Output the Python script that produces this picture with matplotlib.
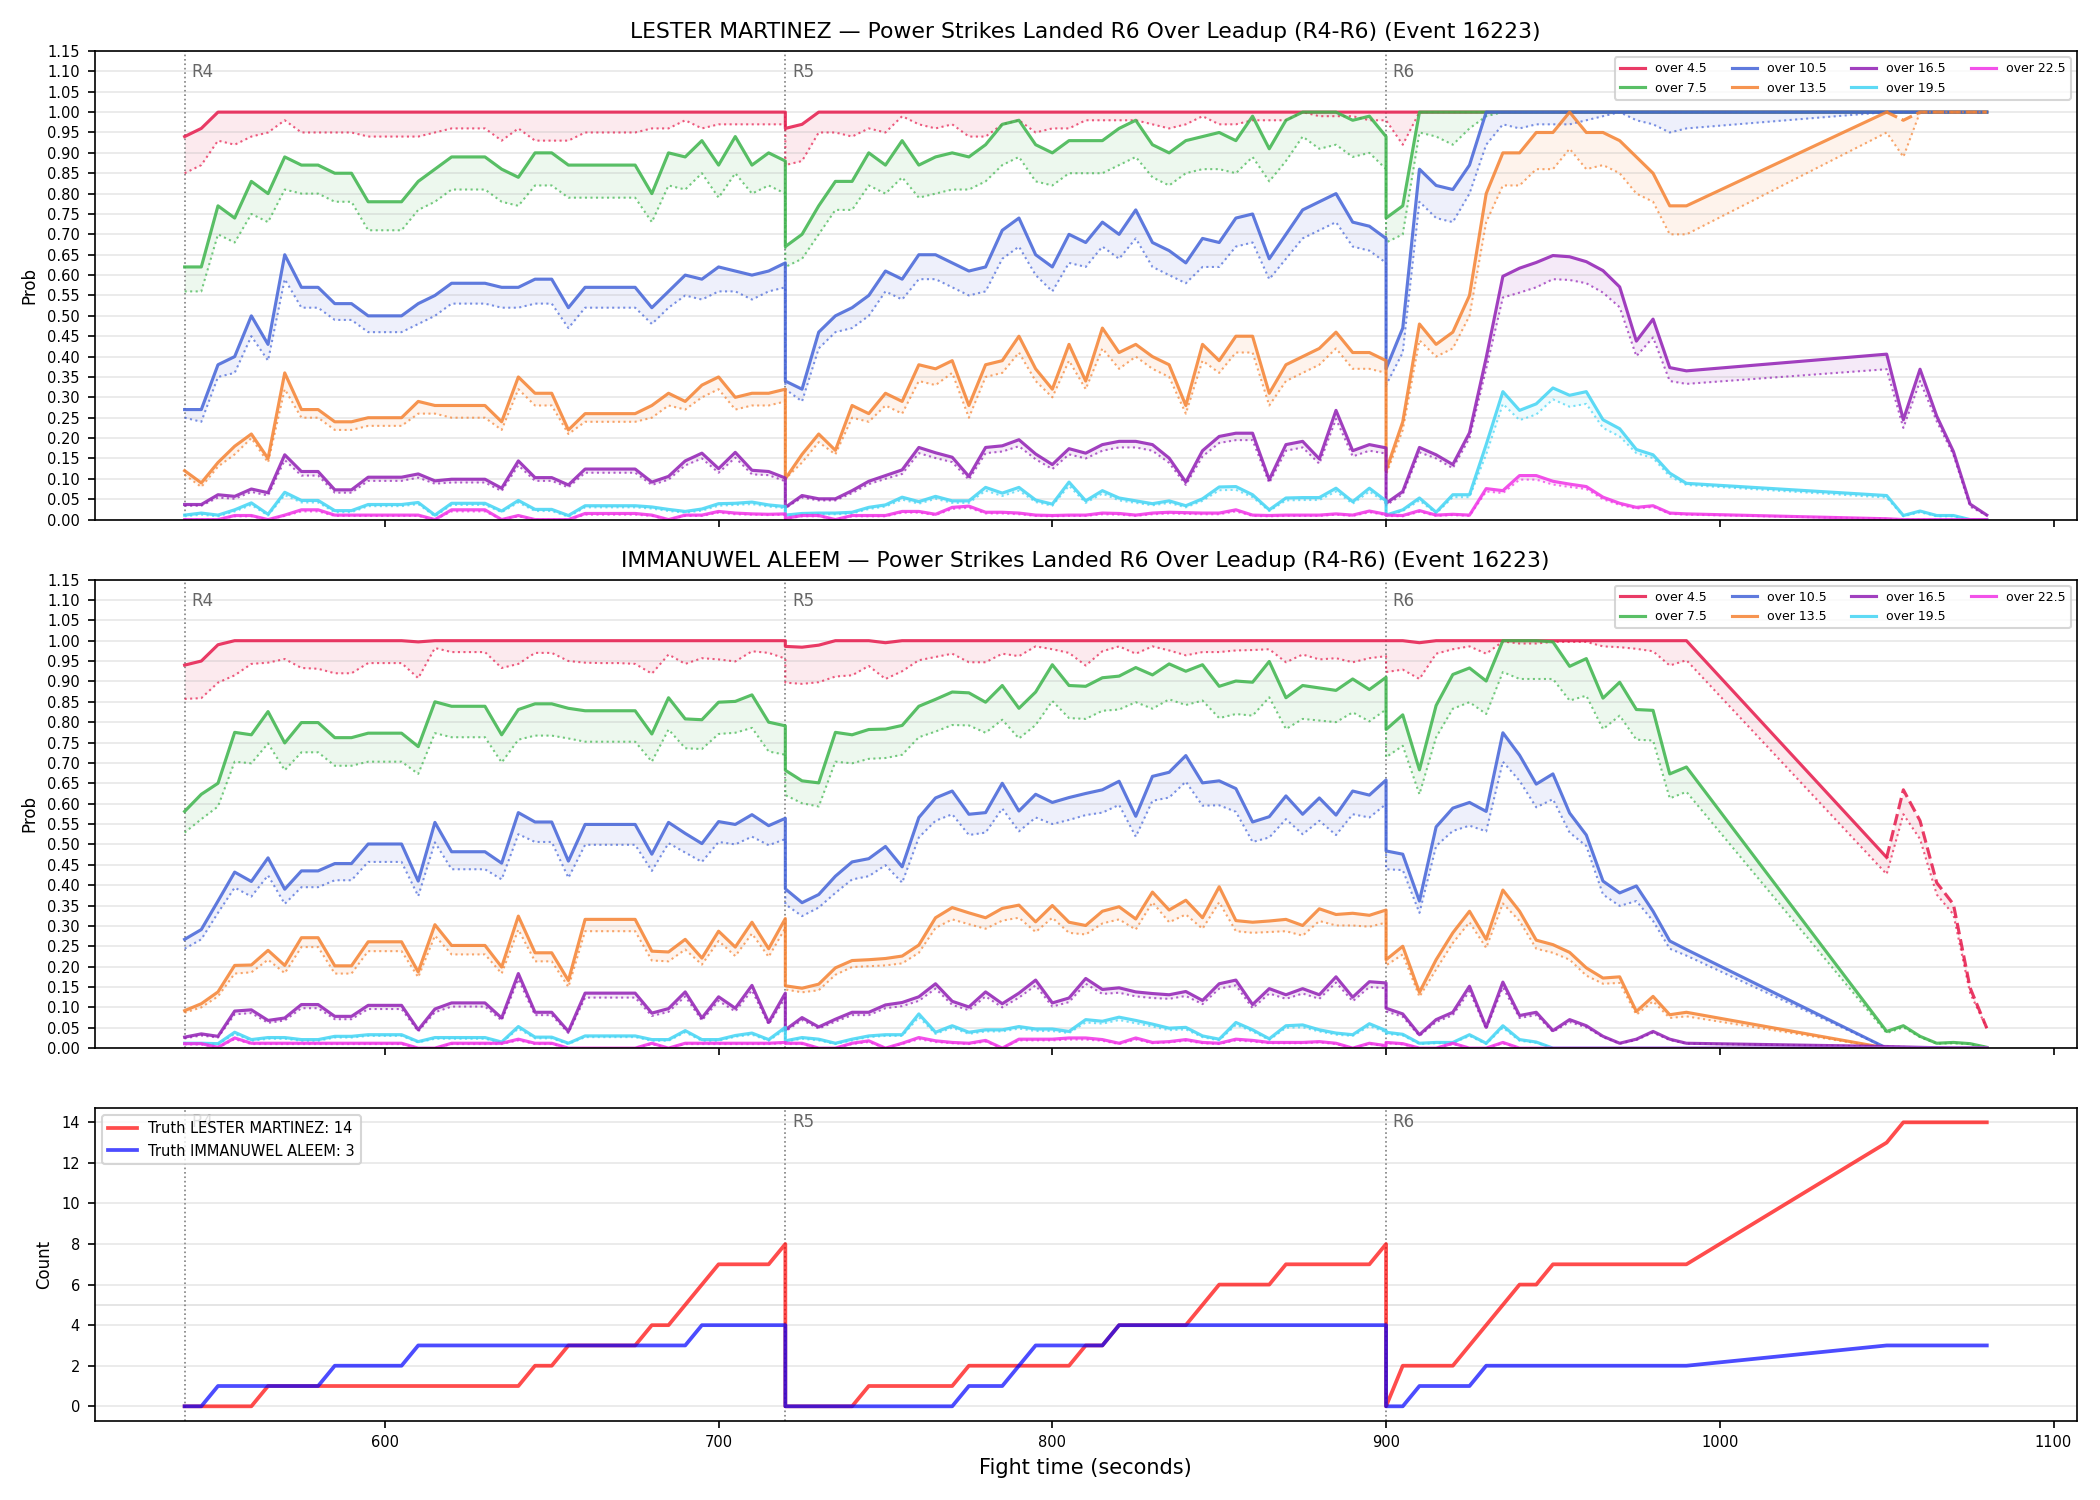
import matplotlib.pyplot as plt
import numpy as np
from matplotlib.transforms import blended_transform_factory


# sample times (s); R6 feed has a gap between 990 and 1050
t_r4 = list(range(540, 721, 5))
t_r5 = list(range(720, 901, 5))
t_r6 = list(range(900, 991, 5)) + list(range(1050, 1081, 5))
times = t_r4 + t_r5 + t_r6

round_starts = [540, 720, 900]
round_names = ['R4', 'R5', 'R6']

line_labels = ['over 4.5', 'over 7.5', 'over 10.5', 'over 13.5',
               'over 16.5', 'over 19.5', 'over 22.5']
line_colors = ['#e6194b', '#3cb44b', '#4363d8', '#f58231',
               '#911eb4', '#42d4f4', '#f032e6']

# ---- LESTER MARTINEZ, probabilities in percent (solid = mean, _lo = lower) ----
lm_45 = [94, 96, 100, 100, 100, 100, 100, 100, 100, 100, 100, 100, 100, 100, 100, 100, 100, 100, 100, 100,
         100, 100, 100, 100, 100, 100, 100, 100, 100, 100, 100, 100, 100, 100, 100, 100, 100,
         96, 97, 100, 100, 100, 100, 100, 100, 100, 100, 100, 100, 100, 100, 100, 100, 100, 100, 100,
         100, 100, 100, 100, 100, 100, 100, 100, 100, 100, 100, 100, 100, 100, 100, 100, 100, 100,
         100, 100, 100, 100, 100, 100, 100, 100, 100, 100, 100, 100, 100, 100, 100, 100, 100, 100, 100,
         100, 100, 100, 100, 100, 100, 100]
lm_45_lo = [85, 87, 93, 92, 94, 95, 98, 95, 95, 95, 95, 94, 94, 94, 94, 95, 96, 96, 96, 93,
            96, 93, 93, 93, 95, 95, 95, 95, 96, 96, 98, 96, 97, 97, 97, 97, 97,
            87, 88, 95, 95, 94, 96, 95, 99, 97, 96, 97, 94, 94, 97, 98, 95, 96, 96, 98,
            98, 98, 98, 97, 96, 97, 99, 97, 97, 98, 98, 98, 100, 99, 99, 99, 98, 98,
            98, 92, 100, 100, 100, 100, 100, 100, 100, 100, 100, 100, 100, 100, 100, 100, 100, 100, 100,
            100, 100, 100, 100, 100, 100, 100]
lm_75 = [62, 62, 77, 74, 83, 80, 89, 87, 87, 85, 85, 78, 78, 78, 83, 86, 89, 89, 89, 86,
         84, 90, 90, 87, 87, 87, 87, 87, 80, 90, 89, 93, 87, 94, 87, 90, 88,
         67, 70, 77, 83, 83, 90, 87, 93, 87, 89, 90, 89, 92, 97, 98, 92, 90, 93, 93,
         93, 96, 98, 92, 90, 93, 94, 95, 93, 99, 91, 98, 100, 100, 100, 98, 99, 94,
         74, 77, 100, 100, 100, 100, 100, 100, 100, 100, 100, 100, 100, 100, 100, 100, 100, 100, 100,
         100, 100, 100, 100, 100, 100, 100]
lm_75_lo = [56, 56, 70, 68, 75, 73, 81, 80, 80, 78, 78, 71, 71, 71, 76, 78, 81, 81, 81, 78,
            77, 82, 82, 79, 79, 79, 79, 79, 73, 82, 81, 85, 79, 85, 80, 82, 80,
            62, 64, 70, 76, 76, 82, 80, 84, 79, 80, 81, 81, 83, 87, 89, 83, 82, 85, 85,
            85, 87, 89, 84, 82, 85, 86, 86, 85, 89, 83, 88, 94, 91, 92, 89, 90, 86,
            68, 70, 95, 94, 92, 96, 99, 100, 100, 100, 100, 100, 100, 100, 100, 100, 100, 100, 100,
            100, 100, 100, 100, 100, 100, 100]
lm_105 = [27, 27, 38, 40, 50, 43, 65, 57, 57, 53, 53, 50, 50, 50, 53, 55, 58, 58, 58, 57,
          57, 59, 59, 52, 57, 57, 57, 57, 52, 56, 60, 59, 62, 61, 60, 61, 63,
          34, 32, 46, 50, 52, 55, 61, 59, 65, 65, 63, 61, 62, 71, 74, 65, 62, 70, 68,
          73, 70, 76, 68, 66, 63, 69, 68, 74, 75, 64, 70, 76, 78, 80, 73, 72, 69,
          37, 47, 86, 82, 81, 87, 100, 100, 100, 100, 100, 100, 100, 100, 100, 100, 100, 100, 100,
          100, 100, 100, 100, 100, 100, 100]
lm_105_lo = [25, 24, 35, 36, 45, 39, 59, 52, 52, 49, 49, 46, 46, 46, 48, 50, 53, 53, 53, 52,
             52, 53, 53, 47, 52, 52, 52, 52, 48, 52, 55, 54, 56, 56, 54, 56, 57,
             32, 29, 42, 46, 47, 50, 56, 54, 59, 59, 57, 55, 56, 64, 67, 60, 56, 63, 62,
             67, 64, 69, 62, 60, 58, 62, 62, 67, 68, 59, 64, 69, 71, 73, 67, 66, 63,
             33, 41, 78, 74, 73, 80, 92, 97, 96, 97, 97, 97, 98, 99, 100, 98, 97, 95, 96,
             100, 100, 100, 100, 100, 100, 100]
lm_135 = [12, 9, 14, 18, 21, 15, 36, 27, 27, 24, 24, 25, 25, 25, 29, 28, 28, 28, 28, 24,
          35, 31, 31, 22, 26, 26, 26, 26, 28, 31, 29, 33, 35, 30, 31, 31, 32,
          10, 16, 21, 17, 28, 26, 31, 29, 38, 37, 39, 28, 38, 39, 45, 37, 32, 43, 34,
          47, 41, 43, 40, 38, 28, 43, 39, 45, 45, 31, 38, 40, 42, 46, 41, 41, 39,
          12, 24, 48, 43, 46, 55, 80, 90, 90, 95, 95, 100, 95, 95, 93, 89, 85, 77, 77,
          100, 98, 100, 100, 100, 100, 100]
lm_135_lo = [11, 8, 13, 16, 20, 14, 32, 25, 25, 22, 22, 23, 23, 23, 26, 26, 25, 25, 25, 22,
             32, 28, 28, 21, 24, 24, 24, 24, 25, 28, 27, 30, 32, 27, 28, 28, 29,
             10, 14, 19, 16, 25, 24, 28, 26, 34, 33, 36, 25, 35, 36, 41, 34, 30, 39, 32,
             42, 37, 40, 37, 35, 26, 39, 36, 41, 41, 28, 34, 36, 38, 42, 37, 37, 36,
             11, 22, 44, 40, 42, 50, 73, 82, 82, 86, 86, 91, 86, 87, 85, 80, 78, 70, 70,
             95, 89, 100, 100, 100, 100, 100]
lm_165 = [3.7, 3.7, 6.1, 5.7, 7.5, 6.6, 15.9, 11.8, 11.8, 7.3, 7.3, 10.4, 10.4, 10.4, 11.2, 9.5, 9.9, 9.9, 9.9, 7.7,
          14.4, 10.3, 10.3, 8.5, 12.4, 12.4, 12.4, 12.4, 9.2, 10.6, 14.4, 16.3, 12.5, 16.5, 12.1, 11.8, 10.2,
          3.0, 5.9, 5.1, 5.1, 7.1, 9.4, 10.8, 12.2, 17.7, 16.4, 15.3, 10.6, 17.7, 18.1,
          19.6, 16.1, 13.5, 17.4, 16.3, 18.4, 19.2, 19.2, 18.4, 15.1, 9.2, 16.9, 20.4, 21.2, 21.2, 9.8,
          18.4, 19.2, 14.9, 26.8, 16.9, 18.4, 17.6,
          4.0, 6.9, 17.7, 15.9, 13.5, 21.3, 39.7, 59.7, 61.7, 63.1, 64.8, 64.5, 63.3, 61.1, 57.1, 43.8,
          49.2, 37.3, 36.5, 40.6, 24.5, 36.9, 25.4, 16.7, 3.8, 1.1]
lm_165_lo = [3.4, 3.4, 5.4, 5.1, 6.8, 5.9, 14.6, 10.8, 10.8, 6.6, 6.6, 9.5, 9.5, 9.5, 10.3, 8.8, 9.1, 9.1, 9.1, 7.0,
             13.3, 9.5, 9.5, 7.9, 11.5, 11.5, 11.5, 11.5, 8.5, 9.8, 13.3, 15.0, 11.5, 15.2, 11.1, 10.9, 9.4,
             2.8, 5.4, 4.7, 4.7, 6.5, 8.7, 10.0, 11.2, 16.3, 15.1, 14.1, 9.8, 16.3, 16.7,
             18.0, 14.8, 12.4, 16.0, 15.0, 16.9, 17.7, 17.7, 16.9, 13.9, 8.5, 15.5, 18.8, 19.5, 19.5, 9.0,
             16.9, 17.7, 13.7, 24.7, 15.5, 16.9, 16.2,
             3.5, 6.2, 16.5, 15.0, 12.6, 20.0, 37.0, 54.5, 55.7, 57.0, 59.0, 58.8, 58.0, 55.7, 52.1, 40.1,
             44.7, 34.0, 33.3, 36.9, 22.5, 34.0, 24.1, 15.9, 3.2, 1.0]
lm_195 = [1.1, 1.6, 1.1, 2.4, 4.1, 1.3, 6.7, 4.7, 4.7, 2.2, 2.2, 3.7, 3.7, 3.7, 4.2, 1.1, 4.0, 4.0, 4.0, 2.1,
          4.7, 2.5, 2.5, 1.0, 3.4, 3.4, 3.4, 3.4, 3.1, 2.5, 2.0, 2.6, 3.9, 4.0, 4.3, 3.6, 3.2,
          1.1, 1.5, 1.6, 1.6, 1.8, 3.0, 3.6, 5.5, 4.4, 5.7, 4.6, 4.6, 7.9, 6.5,
          7.9, 4.8, 3.8, 9.2, 4.6, 7.1, 5.3, 4.6, 3.9, 4.6, 3.4, 5.1, 8.0, 8.1, 6.1, 2.4, 5.3, 5.4, 5.4,
          7.7, 4.4, 7.7, 4.6,
          1.1, 2.4, 5.3, 1.8, 6.1, 6.1, 18.4, 31.4, 26.8, 28.4, 32.3, 30.5, 31.4, 24.5, 22.3, 17.2,
          15.9, 11.4, 8.9, 5.9, 1.0, 2.1, 1.0, 1.0, 0, 0]
lm_195_lo = [0.8, 1.2, 0.8, 2.0, 3.6, 1.0, 6.0, 4.2, 4.2, 1.8, 1.8, 3.3, 3.3, 3.3, 3.8, 0.8, 3.6, 3.6, 3.6, 1.8,
             4.2, 2.1, 2.1, 0.7, 3.0, 3.0, 3.0, 3.0, 2.7, 2.1, 1.7, 2.2, 3.4, 3.6, 3.8, 3.2, 2.8,
             0.9, 1.2, 1.3, 1.3, 1.5, 2.6, 3.2, 4.9, 3.9, 5.1, 4.1, 4.1, 7.1, 5.8,
             7.1, 4.3, 3.4, 8.3, 4.1, 6.4, 4.7, 4.1, 3.5, 4.1, 3.0, 4.6, 7.2, 7.3, 5.5, 2.1, 4.7, 4.8, 4.8,
             6.9, 3.9, 6.9, 4.1,
             0.9, 2.1, 4.7, 1.5, 5.5, 5.5, 16.0, 28.4, 24.4, 25.8, 29.5, 27.7, 28.4, 22.5, 20.4, 16.3,
             15.1, 10.6, 8.5, 5.4, 0.8, 1.8, 0.8, 0.8, 0, 0]
lm_225 = [0, 0, 0, 1.0, 1.0, 0, 1.1, 2.4, 2.4, 1.1, 1.1, 1.1, 1.1, 1.1, 1.1, 0, 2.4, 2.4, 2.4, 0,
          1.0, 0, 0, 0, 1.5, 1.5, 1.5, 1.5, 1.1, 0, 1.1, 1.1, 2.0, 1.6, 1.4, 1.3, 1.4,
          0.3, 1.0, 1.0, 0, 1.0, 1.0, 1.0, 2.0, 2.0, 1.3, 3.0, 3.3, 1.8, 1.8,
          1.6, 1.1, 1.0, 1.1, 1.1, 1.6, 1.5, 1.1, 1.6, 1.8, 1.7, 1.6, 1.6, 2.4, 1.1, 1.0, 1.1, 1.1, 1.1,
          1.4, 1.1, 2.1, 1.3,
          1.1, 1.0, 2.2, 1.1, 1.3, 1.1, 7.6, 7.1, 10.8, 10.8, 9.4, 8.7, 8.1, 5.5, 4.0, 3.0,
          3.4, 1.6, 1.4, 0.2, 0, 0, 0, 0, 0, 0]
lm_225_lo = [0, 0, 0, 0.8, 0.8, 0, 0.9, 2.0, 2.0, 0.9, 0.9, 0.9, 0.9, 0.9, 0.9, 0, 2.0, 2.0, 2.0, 0,
             0.8, 0, 0, 0, 1.2, 1.2, 1.2, 1.2, 0.9, 0, 0.9, 0.9, 1.7, 1.3, 1.2, 1.1, 1.2,
             0.2, 0.8, 0.8, 0, 0.8, 0.8, 0.8, 1.7, 1.7, 1.1, 2.6, 2.9, 1.5, 1.5,
             1.3, 0.9, 0.8, 0.9, 0.9, 1.3, 1.2, 0.9, 1.3, 1.5, 1.4, 1.3, 1.3, 2.0, 0.9, 0.8, 0.9, 0.9, 0.9,
             1.2, 0.9, 1.8, 1.1,
             0.9, 0.8, 1.9, 0.9, 1.1, 0.9, 6.9, 6.5, 9.8, 9.8, 8.6, 8.0, 7.5, 5.0, 3.6, 2.7,
             3.1, 1.4, 1.2, 0.2, 0, 0, 0, 0, 0, 0]

# ---- IMMANUWEL ALEEM ----
ia_45 = [94, 95, 99, 100, 100, 100, 100, 100, 100, 100, 100, 100, 100, 100, 99.7, 100, 100, 100, 100, 100,
         100, 100, 100, 100, 100, 100, 100, 100, 100, 100, 100, 100, 100, 100, 100, 100, 100,
         98.6, 98.4, 98.9, 100, 100, 100, 99.5, 100, 100, 100, 100, 100, 100, 100, 100, 100, 100, 100,
         100, 100, 100, 100, 100, 100, 100, 100, 100, 100, 100, 100, 100, 100, 100, 100, 100, 100, 100,
         100, 100, 99.5, 100, 100, 100, 100, 100, 100, 100, 100, 100, 100, 100, 100, 100, 100, 100, 100,
         46.8, 63.4, 55.8, 40.6, 35.3, 14.8, 4.9]
ia_45_lo = [85.7, 85.9, 89.7, 91.5, 94.3, 94.6, 95.5, 93.3, 93.1, 92.0, 92.0, 94.5, 94.5, 94.5, 90.8, 98.2, 97.2,
            97.2, 97.2, 93.3, 94.3, 97.0, 97.0, 95.0, 94.6, 94.5, 94.5, 94.3, 91.9, 96.6, 94.3, 95.7, 95.4,
            94.9, 97.4, 97.0, 95.6,
            89.7, 89.4, 89.8, 91.2, 91.5, 93.8, 90.6, 92.5, 95.2, 96.0, 96.8, 94.7, 94.7, 96.8, 96.2, 98.6,
            97.9, 97.0, 93.9, 97.4, 98.6, 96.8, 98.6, 97.6, 96.4, 97.2, 97.2, 97.6, 97.7, 97.9, 94.7, 96.6,
            95.4, 95.7, 94.7, 95.7, 96.2,
            92.3, 92.9, 90.6, 96.8, 97.9, 98.6, 96.8, 99.8, 99.3, 99.3, 99.7, 99.7, 99.7, 98.6, 98.4, 98.0,
            97.4, 93.9, 95.2, 42.7, 57.4, 51.3, 37.7, 32.8, 13.5, 4.9]
ia_75 = [58.1, 62.3, 65.0, 77.5, 76.9, 82.6, 74.9, 79.9, 79.9, 76.2, 76.2, 77.3, 77.3, 77.3, 74.0, 85.0, 83.9,
         83.9, 83.9, 76.9, 83.1, 84.5, 84.5, 83.4, 82.8, 82.8, 82.8, 82.8, 77.1, 86.0, 80.8, 80.6, 84.9, 85.1,
         86.7, 80.0, 79.1,
         68.2, 65.6, 65.1, 77.5, 76.9, 78.2, 78.3, 79.2, 83.9, 85.6, 87.4, 87.2, 84.9, 89.0, 83.4, 87.4, 94.1,
         89.0, 88.8, 90.9, 91.3, 93.4, 91.6, 94.3, 92.5, 94.1, 88.8, 90.1, 89.8, 94.9, 86.0, 89.0, 88.4, 87.8,
         90.6, 88.0, 91.0,
         78.2, 81.8, 68.3, 84.1, 91.7, 93.3, 90.1, 100, 100, 100, 99.7, 93.7, 95.6, 85.9, 89.8, 83.1, 82.9,
         67.3, 69.0, 4.1, 5.5, 2.9, 1.2, 1.4, 1.1, 0.2]
ia_75_lo = [52.9, 56.2, 59.3, 70.3, 69.9, 74.8, 68.2, 72.6, 72.6, 69.3, 69.3, 70.3, 70.3, 70.3, 67.3, 77.3, 76.3,
            76.3, 76.3, 70.1, 75.7, 76.7, 76.7, 76.0, 75.2, 75.2, 75.2, 75.2, 70.3, 78.2, 73.6, 73.4, 77.1,
            77.4, 78.6, 72.8, 72.0,
            62.1, 60.1, 59.3, 70.3, 69.9, 71.0, 71.2, 72.0, 76.3, 77.7, 79.3, 79.2, 77.4, 80.6, 76.0, 79.3,
            85.2, 81.0, 80.8, 82.8, 83.1, 84.9, 83.3, 85.6, 84.2, 85.3, 81.0, 82.0, 81.6, 86.1, 78.3, 80.8,
            80.4, 80.0, 82.4, 80.2, 83.1,
            71.4, 74.2, 62.3, 76.3, 83.3, 84.9, 82.0, 92.3, 90.6, 90.6, 90.6, 85.3, 86.5, 78.3, 81.6, 75.7,
            75.5, 61.3, 62.9, 3.7, 5.1, 2.7, 1.1, 1.2, 1.0, 0.2]
ia_105 = [26.7, 29.1, 36.1, 43.2, 40.9, 46.7, 39.0, 43.5, 43.5, 45.3, 45.3, 50.1, 50.1, 50.1, 41.0, 55.4, 48.2,
          48.2, 48.2, 45.4, 57.8, 55.5, 55.5, 45.9, 54.9, 54.9, 54.9, 54.9, 47.6, 55.4, 52.7, 50.2, 55.6, 54.9,
          57.3, 54.6, 56.4,
          39.1, 35.7, 37.7, 42.2, 45.7, 46.5, 49.5, 44.5, 56.6, 61.4, 63.1, 57.4, 57.8, 65.0, 58.2, 62.3, 60.3,
          61.5, 62.5, 63.4, 65.5, 56.9, 66.7, 67.7, 71.8, 65.1, 65.6, 63.7, 55.5, 56.8, 61.9, 57.4, 61.4, 57.2,
          63.1, 62.1, 65.8,
          48.4, 47.6, 36.1, 54.3, 58.9, 60.3, 58.1, 77.4, 71.9, 64.8, 67.3, 57.7, 52.3, 41.0, 38.1, 39.8, 33.6,
          26.3, 24.2, 0, 0, 0, 0, 0, 0, 0]
ia_105_lo = [24.4, 26.7, 33.2, 39.4, 37.2, 42.4, 35.4, 39.5, 39.5, 41.2, 41.2, 45.7, 45.7, 45.7, 37.3, 50.5, 43.9,
             43.9, 43.9, 41.4, 52.5, 50.6, 50.6, 41.8, 49.9, 49.9, 49.9, 49.9, 43.5, 50.3, 48.0, 45.7, 50.6,
             50.0, 51.9, 49.8, 51.3,
             35.3, 32.4, 34.5, 38.1, 41.4, 42.2, 44.9, 40.6, 51.7, 55.8, 57.4, 52.3, 52.9, 58.8, 53.2, 56.6,
             55.0, 56.0, 57.2, 57.8, 59.7, 51.9, 60.7, 61.5, 65.4, 59.5, 59.6, 58.0, 50.6, 51.7, 56.2, 52.5,
             55.8, 52.3, 57.4, 56.6, 59.9,
             43.9, 43.7, 33.2, 49.6, 53.3, 54.6, 53.2, 70.3, 65.6, 59.1, 61.1, 52.9, 49.6, 37.7, 34.9, 36.1,
             31.2, 24.4, 22.7, 0, 0, 0, 0, 0, 0, 0]
ia_135 = [9.2, 10.9, 13.8, 20.3, 20.4, 24.0, 20.3, 27.1, 27.1, 20.2, 20.2, 26.1, 26.1, 26.1, 18.7, 30.3, 25.2,
          25.2, 25.2, 19.9, 32.4, 23.4, 23.4, 16.6, 31.6, 31.6, 31.6, 31.6, 23.8, 23.6, 26.7, 22.1, 28.7, 24.8,
          30.9, 24.4, 31.8,
          15.3, 14.7, 15.7, 19.7, 21.5, 21.7, 22.0, 22.6, 25.3, 32.0, 34.5, 33.2, 32.0, 34.3, 35.1, 31.0, 35.0,
          30.9, 30.1, 33.6, 34.7, 31.7, 38.3, 33.9, 36.3, 32.0, 39.6, 31.3, 30.9, 31.2, 31.6, 30.1, 34.2, 32.8,
          33.1, 32.6, 33.9,
          21.7, 25.0, 13.7, 21.7, 28.3, 33.6, 26.7, 38.8, 33.6, 26.5, 25.4, 23.5, 19.7, 17.2, 17.5, 9.0, 12.7,
          8.2, 8.8, 0, 0, 0, 0, 0, 0, 0]
ia_135_lo = [8.7, 10.0, 12.7, 18.3, 18.6, 21.7, 18.4, 24.8, 24.8, 18.3, 18.3, 23.8, 23.8, 23.8, 17.4, 27.6, 23.0,
             23.0, 23.0, 18.3, 29.1, 21.3, 21.3, 15.0, 28.7, 28.7, 28.7, 28.7, 21.5, 21.3, 24.2, 20.5, 26.3,
             22.6, 28.1, 22.4, 29.5,
             14.4, 13.7, 14.2, 18.0, 19.9, 20.1, 20.3, 20.8, 23.4, 29.5, 31.6, 30.4, 29.3, 31.3, 32.0, 28.5,
             32.0, 28.3, 27.9, 30.6, 31.6, 29.1, 35.8, 30.9, 32.8, 29.3, 35.8, 28.7, 28.3, 28.5, 28.7, 27.6,
             31.2, 30.1, 30.1, 29.8, 30.8,
             20.3, 23.0, 12.6, 19.3, 25.8, 30.9, 24.6, 35.5, 31.2, 24.4, 23.4, 21.7, 17.8, 15.8, 16.0, 8.2,
             11.5, 7.4, 7.8, 0, 0, 0, 0, 0, 0, 0]
ia_165 = [2.7, 3.5, 2.9, 9.1, 9.4, 6.8, 7.4, 10.7, 10.7, 7.8, 7.8, 10.5, 10.5, 10.5, 4.5, 9.6, 11.1, 11.1, 11.1,
          7.4, 18.3, 8.8, 8.8, 4.1, 13.5, 13.5, 13.5, 13.5, 8.6, 9.7, 13.8, 7.4, 12.6, 9.8, 15.4, 6.3, 13.5,
          4.5, 7.5, 5.2, 7.1, 8.8, 8.8, 10.6, 11.2, 12.6, 15.8, 11.5, 10.1, 13.8, 10.9, 13.5, 16.7, 11.1, 12.3,
          17.1, 14.4, 14.8, 13.8, 13.4, 13.1, 13.9, 11.7, 15.8, 16.7, 10.7, 14.6, 13.1, 14.6, 13.1, 17.5, 12.5,
          16.3, 16.0,
          9.8, 8.4, 3.3, 7.0, 8.8, 15.2, 5.1, 16.2, 8.0, 8.8, 4.3, 7.0, 5.5, 2.9, 1.2, 2.2, 4.1, 2.2, 1.2,
          0.4, 0.3, 0.2, 0.1, 0, 0, 0]
ia_165_lo = [2.4, 3.1, 2.6, 8.3, 8.6, 6.2, 6.8, 9.8, 9.8, 7.1, 7.1, 9.6, 9.6, 9.6, 4.1, 8.8, 10.2, 10.2, 10.2,
             6.8, 16.9, 8.1, 8.1, 3.7, 12.4, 12.4, 12.4, 12.4, 7.9, 8.9, 12.7, 6.8, 11.6, 9.0, 14.2, 5.8, 12.4,
             4.1, 6.9, 4.8, 6.5, 8.1, 8.1, 9.8, 10.3, 11.6, 14.6, 10.6, 9.3, 12.7, 10.0, 12.4, 15.4, 10.2, 11.3,
             15.8, 13.3, 13.6, 12.7, 12.3, 12.1, 12.8, 10.8, 14.6, 15.4, 9.8, 13.4, 12.1, 13.4, 12.1, 16.1,
             11.5, 15.0, 14.7,
             9.0, 7.7, 3.0, 6.4, 8.1, 14.0, 4.7, 14.9, 7.4, 8.1, 4.0, 6.4, 5.1, 2.7, 1.1, 2.0, 3.8, 2.0, 1.1,
             0.4, 0.3, 0.2, 0.1, 0, 0, 0]
ia_195 = [1.2, 1.2, 1.1, 3.9, 2.1, 2.6, 2.6, 2.1, 2.1, 2.9, 2.9, 3.3, 3.3, 3.3, 1.6, 2.6, 2.6, 2.6, 2.6, 1.5,
          5.3, 2.7, 2.7, 1.2, 3.0, 3.0, 3.0, 3.0, 2.1, 2.1, 4.3, 2.1, 2.1, 3.1, 3.7, 2.1, 5.1,
          1.8, 2.6, 2.2, 1.2, 2.2, 3.0, 3.3, 3.3, 8.4, 3.9, 5.5, 3.9, 4.5, 4.5, 5.3, 4.7, 4.7, 4.1,
          7.0, 6.6, 7.6, 6.8, 5.9, 4.9, 5.1, 3.0, 2.2, 6.3, 4.5, 2.3, 5.5, 5.7, 4.5, 3.7, 3.3, 6.0, 4.3,
          3.9, 3.4, 1.2, 1.4, 1.4, 3.3, 1.2, 5.5, 2.1, 1.5, 0, 0, 0, 0, 0, 0, 0, 0, 0,
          0, 0, 0, 0, 0, 0, 0]
ia_195_lo = [1.0, 1.0, 0.9, 3.5, 1.8, 2.3, 2.3, 1.8, 1.8, 2.6, 2.6, 3.0, 3.0, 3.0, 1.4, 2.3, 2.3, 2.3, 2.3, 1.3,
             4.8, 2.4, 2.4, 1.0, 2.7, 2.7, 2.7, 2.7, 1.8, 1.8, 3.9, 1.8, 1.8, 2.8, 3.3, 1.8, 4.6,
             1.6, 2.3, 1.9, 1.0, 1.9, 2.7, 3.0, 3.0, 7.6, 3.5, 5.0, 3.5, 4.1, 4.1, 4.8, 4.2, 4.2, 3.7,
             6.3, 6.0, 6.9, 6.1, 5.3, 4.4, 4.6, 2.7, 1.9, 5.7, 4.1, 2.0, 5.0, 5.1, 4.1, 3.3, 3.0, 5.4, 3.9,
             3.5, 3.1, 1.0, 1.2, 1.2, 3.0, 1.0, 5.0, 1.8, 1.3, 0, 0, 0, 0, 0, 0, 0, 0, 0,
             0, 0, 0, 0, 0, 0, 0]
ia_225 = [1.1, 1.1, 0.2, 2.5, 1.2, 1.2, 1.2, 1.2, 1.2, 1.2, 1.2, 1.2, 1.2, 1.2, 0, 0, 1.2, 1.2, 1.2, 1.2,
          2.2, 1.2, 1.2, 0, 0, 0, 0, 0, 1.2, 0, 1.2, 1.2, 1.2, 1.2, 1.2, 1.2, 1.4,
          1.2, 1.2, 0, 0, 1.2, 1.8, 0, 1.2, 2.6, 1.8, 1.4, 1.2, 1.9, 0, 2.2, 2.2, 2.2, 2.5,
          2.5, 2.1, 1.2, 2.5, 1.4, 1.6, 2.1, 1.4, 1.2, 2.2, 1.9, 1.4, 1.4, 1.4, 1.6, 1.2, 0, 1.2, 0.6,
          1.4, 1.1, 0, 0, 1.2, 0, 0, 1.4, 0, 0, 0, 0, 0, 0, 0, 0, 0, 0, 0,
          0, 0, 0, 0, 0, 0, 0]
ia_225_lo = [0.9, 0.9, 0.1, 2.2, 1.0, 1.0, 1.0, 1.0, 1.0, 1.0, 1.0, 1.0, 1.0, 1.0, 0, 0, 1.0, 1.0, 1.0, 1.0,
             1.9, 1.0, 1.0, 0, 0, 0, 0, 0, 1.0, 0, 1.0, 1.0, 1.0, 1.0, 1.0, 1.0, 1.2,
             1.0, 1.0, 0, 0, 1.0, 1.5, 0, 1.0, 2.2, 1.5, 1.2, 1.0, 1.6, 0, 1.9, 1.9, 1.9, 2.1,
             2.1, 1.8, 1.0, 2.1, 1.2, 1.4, 1.8, 1.2, 1.0, 1.9, 1.6, 1.2, 1.2, 1.2, 1.4, 1.0, 0, 1.0, 0.5,
             1.2, 0.9, 0, 0, 1.0, 0, 0, 1.2, 0, 0, 0, 0, 0, 0, 0, 0, 0, 0, 0,
             0, 0, 0, 0, 0, 0, 0]

# ---- truth counts (cumulative within round) ----
truth_lm = [0, 0, 0, 0, 0, 1, 1, 1, 1, 1, 1, 1, 1, 1, 1, 1, 1, 1, 1, 1, 1, 2, 2, 3, 3, 3, 3, 3, 4, 4, 5, 6,
            7, 7, 7, 7, 8,
            0, 0, 0, 0, 0, 1, 1, 1, 1, 1, 1, 2, 2, 2, 2, 2, 2, 2, 3, 3, 4, 4, 4, 4, 4, 5, 6, 6, 6, 6,
            7, 7, 7, 7, 7, 7, 8,
            0, 2, 2, 2, 2, 3, 4, 5, 6, 6, 7, 7, 7, 7, 7, 7, 7, 7, 7, 13, 14, 14, 14, 14, 14, 14]
truth_ia = [0, 0, 1, 1, 1, 1, 1, 1, 1, 2, 2, 2, 2, 2, 3, 3, 3, 3, 3, 3, 3, 3, 3, 3, 3, 3, 3, 3, 3, 3, 3,
            4, 4, 4, 4, 4, 4,
            0, 0, 0, 0, 0, 0, 0, 0, 0, 0, 0, 1, 1, 1, 2, 3, 3, 3, 3, 3, 4, 4, 4, 4, 4, 4, 4, 4, 4, 4,
            4, 4, 4, 4, 4, 4, 4,
            0, 0, 1, 1, 1, 1, 2, 2, 2, 2, 2, 2, 2, 2, 2, 2, 2, 2, 2, 3, 3, 3, 3, 3, 3, 3]

fighters = ['LESTER MARTINEZ', 'IMMANUWEL ALEEM']
lm_sets = [(lm_45, lm_45_lo), (lm_75, lm_75_lo), (lm_105, lm_105_lo), (lm_135, lm_135_lo),
           (lm_165, lm_165_lo), (lm_195, lm_195_lo), (lm_225, lm_225_lo)]
ia_sets = [(ia_45, ia_45_lo), (ia_75, ia_75_lo), (ia_105, ia_105_lo), (ia_135, ia_135_lo),
           (ia_165, ia_165_lo), (ia_195, ia_195_lo), (ia_225, ia_225_lo)]
dashed_line = {'LESTER MARTINEZ': 3, 'IMMANUWEL ALEEM': 0}   # line drawn dashed after 1050 s
dash_start = 1050


def mark_rounds(ax):
    trans = blended_transform_factory(ax.transData, ax.transAxes)
    for start, name in zip(round_starts, round_names):
        ax.axvline(start, color='grey', linestyle=':', linewidth=0.8, zorder=1)
        ax.text(start + 2, 0.955, name, transform=trans, ha='left', va='center',
                fontsize=8, color='#666666')


def draw_prob(ax, fighter, sets):
    t = np.array(times)
    cut = times.index(dash_start)
    for i, (hi, lo) in enumerate(sets):
        hi = np.array(hi) / 100
        lo = np.array(lo) / 100
        c = line_colors[i]
        ax.fill_between(t, lo, hi, color=c, alpha=0.09, linewidth=0)
        ax.plot(t, lo, ':', color=c, linewidth=1.0, alpha=0.7)
        if dashed_line[fighter] == i:
            ax.plot(t[:cut + 1], hi[:cut + 1], color=c, linewidth=1.5, alpha=0.85,
                    label=line_labels[i])
            ax.plot(t[cut:], hi[cut:], '--', color=c, linewidth=1.5, alpha=0.85)
        else:
            ax.plot(t, hi, color=c, linewidth=1.5, alpha=0.85, label=line_labels[i])
    mark_rounds(ax)
    ax.set_ylim(0, 1.15)
    ax.set_yticks(np.arange(0, 1.151, 0.05))
    ax.yaxis.set_major_formatter(plt.FormatStrFormatter('%.2f'))
    ax.set_ylabel('Prob', fontsize=8)
    ax.set_title(f'{fighter} \u2014 Power Strikes Landed R6 Over Leadup (R4-R6) (Event 16223)',
                 fontsize=10.5)
    ax.grid(axis='y', alpha=0.3)
    ax.tick_params(labelsize=7)
    ax.legend(loc='upper right', ncol=4, fontsize=6)


def main():
    fig, axes = plt.subplots(3, 1, figsize=(14, 10), sharex=True,
                             gridspec_kw={'height_ratios': [3, 3, 2]})
    fig.subplots_adjust(left=0.045, right=0.989, top=0.966, bottom=0.053, hspace=0.144)

    draw_prob(axes[0], fighters[0], lm_sets)
    draw_prob(axes[1], fighters[1], ia_sets)

    ax = axes[2]
    ax.plot(times, truth_lm, color='red', linewidth=1.8, alpha=0.7,
            label=f'Truth {fighters[0]}: {truth_lm[-1]}')
    ax.plot(times, truth_ia, color='blue', linewidth=1.8, alpha=0.7,
            label=f'Truth {fighters[1]}: {truth_ia[-1]}')
    mark_rounds(ax)
    ax.axhline(5, color='#cccccc', linewidth=0.8, alpha=0.6, zorder=0)
    ax.set_ylabel('Count', fontsize=8)
    ax.set_xlabel('Fight time (seconds)', fontsize=10)
    ax.grid(axis='y', alpha=0.3)
    ax.tick_params(labelsize=7)
    ax.legend(loc='upper left', fontsize=7)

    fig.savefig('out.png', dpi=150)
    plt.close(fig)


if __name__ == '__main__':
    main()
